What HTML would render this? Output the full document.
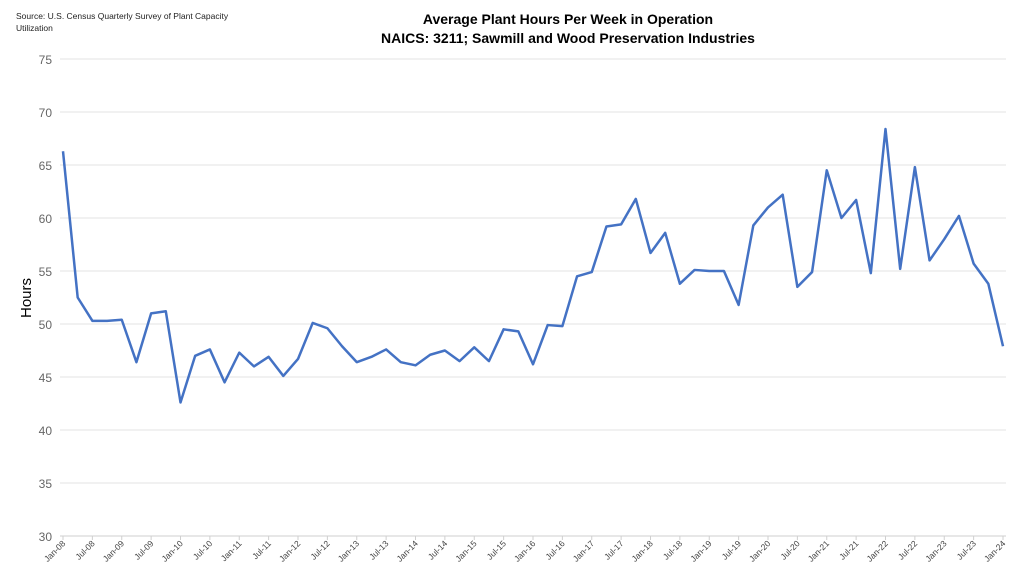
<!DOCTYPE html>
<html><head><meta charset="utf-8"><style>
body{margin:0;background:#fff;font-family:"Liberation Sans",sans-serif}
</style></head><body>
<svg id="chart" width="1024" height="576" xmlns="http://www.w3.org/2000/svg">
<text x="16" y="19" font-size="8.5" fill="#222">Source: U.S. Census Quarterly Survey of Plant Capacity</text>
<text x="16" y="31" font-size="8.5" fill="#222">Utilization</text>
<text x="568" y="24" font-size="14" font-weight="bold" text-anchor="middle" fill="#000">Average Plant Hours Per Week in Operation</text>
<text x="568" y="43" font-size="14" font-weight="bold" text-anchor="middle" fill="#000">NAICS: 3211; Sawmill and Wood Preservation Industries</text>
<text transform="translate(31,298) rotate(-90)" font-size="15" text-anchor="middle" fill="#000">Hours</text>
<g id="grid"></g><g id="yticks"></g><g id="xticks"></g><g id="series"></g>
</svg>
<script>
const yTicks=[30,35,40,45,50,55,60,65,70,75];
const years=[8,9,10,11,12,13,14,15,16,17,18,19,20,21,22,23,24];
const hours=[66.3,52.5,50.3,50.3, 50.4,46.4,51.0,51.2, 42.6,47.0,47.6,44.5, 47.3,46.0,46.9,45.1,
46.7,50.1,49.6,47.9, 46.4,46.9,47.6,46.4, 46.1,47.1,47.5,46.5, 47.8,46.5,49.5,49.3,
46.2,49.9,49.8,54.5, 54.9,59.2,59.4,61.8, 56.7,58.6,53.8,55.1, 55.0,55.0,51.8,59.3,
61.0,62.2,53.5,54.9, 64.5,60.0,61.7,54.8, 68.4,55.2,64.8,56.0, 58.0,60.2,55.7,53.8, 47.9];
const NS="http://www.w3.org/2000/svg";
const x0=63,x1=1003,yTop=59,yBot=536;
const xs=i=>x0+(x1-x0)*i/(hours.length-1);
const ys=v=>yBot-(v-30)/45*(yBot-yTop);
function mk(t,a,p){const e=document.createElementNS(NS,t);for(const k in a)e.setAttribute(k,a[k]);p.appendChild(e);return e;}
const grid=document.getElementById('grid'),yt=document.getElementById('yticks'),xt=document.getElementById('xticks'),ser=document.getElementById('series');
yTicks.forEach(v=>{
 const l=mk('line',{x1:60,x2:1006,y1:ys(v),y2:ys(v),stroke:v===30?'#cfcfcf':'#e3e3e3','stroke-width':1},grid);
 
 
 const t=mk('text',{x:52,y:ys(v)+5,'font-size':12,'text-anchor':'end',fill:'#666'},yt);
 t.textContent=v;
 
 
});
years.forEach((yr,k)=>{
 ['Jan','Jul'].forEach((m,j)=>{
  const idx=k*4+j*2; if(idx>=hours.length)return;
  const x=xs(idx);
  mk('line',{x1:x,x2:x,y1:yBot,y2:yBot+4,stroke:'#cfcfcf'},xt);
  const t=mk('text',{transform:`translate(${x+3},${yBot+8}) rotate(-45)`,'font-size':8.5,'text-anchor':'end',fill:'#444'},xt);
  t.textContent=m+'-'+String(yr).padStart(2,'0');
  
  
 });
});
const p=mk('polyline',{points:hours.map((v,i)=>xs(i)+','+ys(v)).join(' '),fill:'none',stroke:'#4472c4','stroke-width':2.5,'stroke-linejoin':'round'},ser);


</script>
</body></html>
